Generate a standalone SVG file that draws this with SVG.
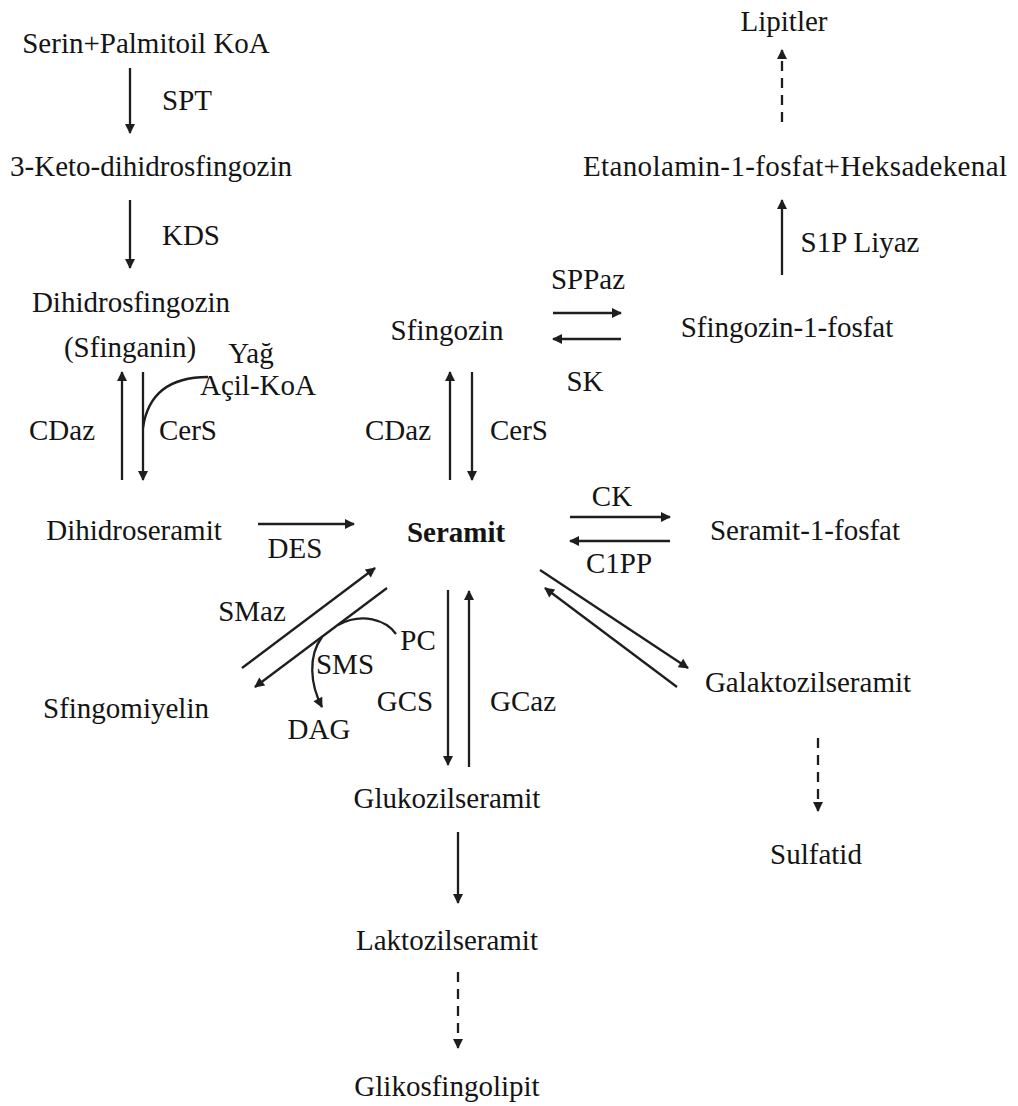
<svg xmlns="http://www.w3.org/2000/svg" width="1018" height="1106" viewBox="0 0 1018 1106">
<defs>
<style>
text{font-family:"Liberation Serif","Times New Roman",serif;font-size:29px;fill:#141414;text-anchor:middle}
.b{font-weight:bold}
.c line,.c path{stroke:#1e1e1e;stroke-width:2.3;fill:none}
.a{marker-end:url(#ah)}
.d{stroke-dasharray:10 7}
</style>
<marker id="ah" viewBox="0 0 10 10" refX="9" refY="5" markerWidth="12" markerHeight="10" markerUnits="userSpaceOnUse" orient="auto"><path d="M0,0 L10,5 L0,10 z" fill="#1e1e1e"/></marker>
</defs>
<rect width="1018" height="1106" fill="#fff"/>
<g id="connectors" class="c">
<line class="a" x1="130" y1="68" x2="130" y2="133"/>
<line class="a" x1="130" y1="200" x2="130" y2="268"/>
<line class="a" x1="122" y1="480" x2="122" y2="372"/>
<line class="a" x1="143" y1="372" x2="143" y2="480"/>
<path d="M208 377 Q150 377 143 428"/>
<line class="a" x1="258" y1="524" x2="354" y2="524"/>
<line class="a" x1="450" y1="480" x2="450" y2="372"/>
<line class="a" x1="472" y1="372" x2="472" y2="480"/>
<line class="a" x1="553" y1="313" x2="621" y2="313"/>
<line class="a" x1="621" y1="339" x2="553" y2="339"/>
<line class="a" x1="782" y1="275" x2="782" y2="200"/>
<line class="a d" x1="782" y1="122" x2="782" y2="50"/>
<line class="a" x1="570" y1="517" x2="670" y2="517"/>
<line class="a" x1="670" y1="541" x2="570" y2="541"/>
<line class="a" x1="540" y1="570" x2="688" y2="668"/>
<line class="a" x1="677" y1="687" x2="545" y2="588"/>
<line class="a d" x1="818" y1="738" x2="818" y2="811"/>
<line class="a" x1="448" y1="590" x2="448" y2="765"/>
<line class="a" x1="469" y1="767" x2="469" y2="591"/>
<line class="a" x1="458" y1="832" x2="458" y2="903"/>
<line class="a d" x1="458" y1="972" x2="458" y2="1048"/>
<line class="a" x1="242" y1="668" x2="375" y2="568"/>
<line class="a" x1="387" y1="588" x2="255" y2="687"/>
<path d="M396 634 C386 620 362 612 338 625"/>
<path class="a" d="M322 637 C308 656 310 684 322 707"/>
</g>
<g id="serin"><text x="146" y="53">Serin+Palmitoil KoA</text></g>
<g id="spt"><text x="187" y="110">SPT</text></g>
<g id="keto"><text x="151" y="176">3-Keto-dihidrosfingozin</text></g>
<g id="kds"><text x="191" y="245">KDS</text></g>
<g id="dihidrosfingozin"><text x="131" y="312">Dihidrosfingozin</text><text x="130" y="357">(Sfinganin)</text></g>
<g id="yag"><text x="251" y="363">Yağ</text><text x="258" y="395">Açil-KoA</text></g>
<g id="cdaz1"><text x="62" y="440">CDaz</text></g>
<g id="cers1"><text x="188" y="440">CerS</text></g>
<g id="dihidroseramit"><text x="134" y="540">Dihidroseramit</text></g>
<g id="des"><text x="295" y="558">DES</text></g>
<g id="seramit"><text class="b" x="456" y="542">Seramit</text></g>
<g id="sfingozin"><text x="447" y="340">Sfingozin</text></g>
<g id="cdaz2"><text x="398" y="440">CDaz</text></g>
<g id="cers2"><text x="519" y="440">CerS</text></g>
<g id="sppaz"><text x="588" y="289">SPPaz</text></g>
<g id="sk"><text x="585" y="391">SK</text></g>
<g id="s1p"><text x="787" y="337">Sfingozin-1-fosfat</text></g>
<g id="s1pliyaz"><text x="860" y="252">S1P Liyaz</text></g>
<g id="etanolamin"><text x="795" y="176" textLength="424" lengthAdjust="spacing">Etanolamin-1-fosfat+Heksadekenal</text></g>
<g id="lipitler"><text x="784" y="31">Lipitler</text></g>
<g id="ck"><text x="612" y="506">CK</text></g>
<g id="c1pp"><text x="619" y="573">C1PP</text></g>
<g id="c1p"><text x="805" y="540">Seramit-1-fosfat</text></g>
<g id="galaktozil"><text x="808" y="692">Galaktozilseramit</text></g>
<g id="sulfatid"><text x="816" y="864">Sulfatid</text></g>
<g id="gcs"><text x="405" y="711">GCS</text></g>
<g id="gcaz"><text x="523" y="711">GCaz</text></g>
<g id="glukozil"><text x="447" y="808">Glukozilseramit</text></g>
<g id="laktozil"><text x="447" y="950">Laktozilseramit</text></g>
<g id="glikosfingolipit"><text x="447" y="1096">Glikosfingolipit</text></g>
<g id="smaz"><text x="252" y="621">SMaz</text></g>
<g id="sms"><text x="345" y="674">SMS</text></g>
<g id="pc"><text x="418" y="650">PC</text></g>
<g id="dag"><text x="319" y="739">DAG</text></g>
<g id="sfingomiyelin"><text x="126" y="718">Sfingomiyelin</text></g>
</svg>
